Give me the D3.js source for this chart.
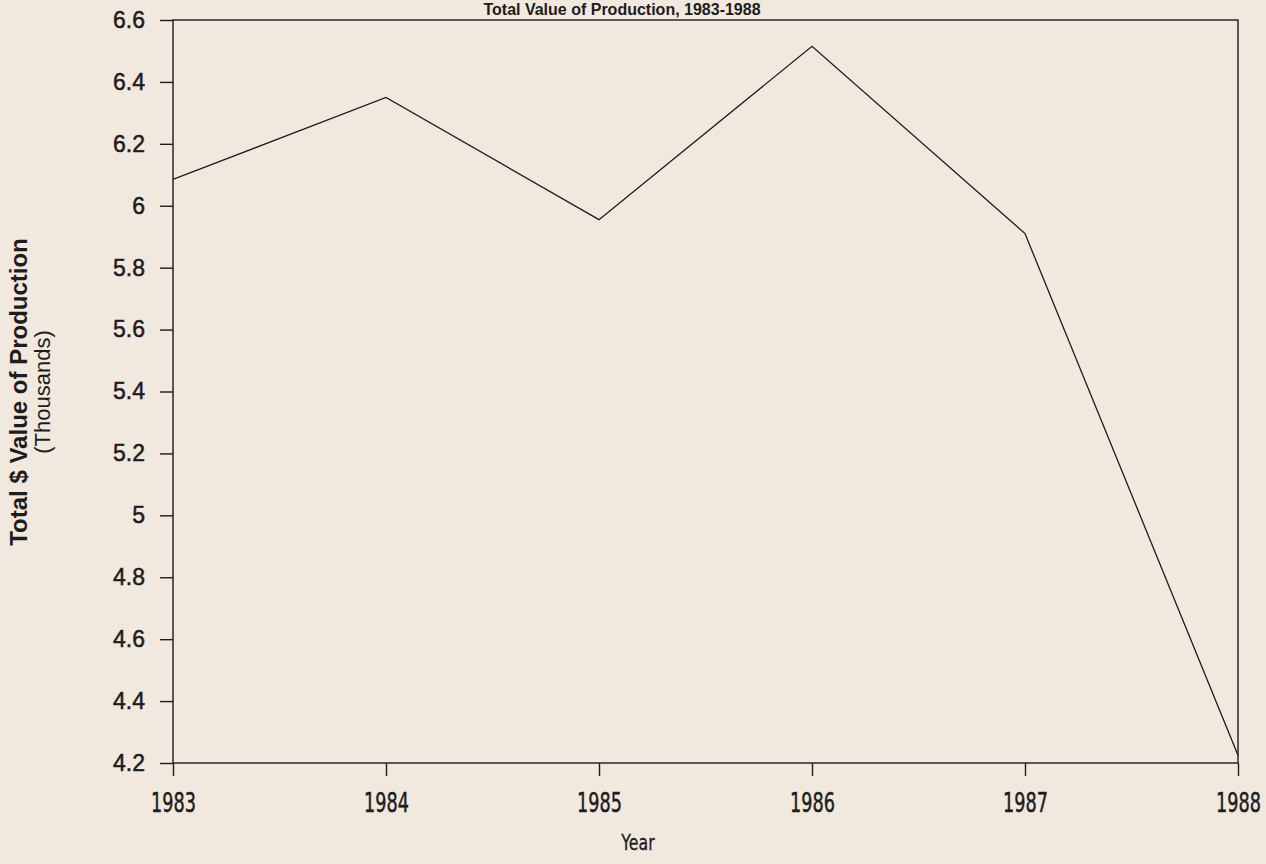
<!DOCTYPE html>
<html><head><meta charset="utf-8">
<script src="https://cdn.jsdelivr.net/npm/d3@7"></script>
<style>
html,body{margin:0;padding:0;background:#f1e8de;}
svg{display:block;}
</style></head>
<body>
<svg id="chart" width="1266" height="864"></svg>
<script>
const years = [1983, 1984, 1985, 1986, 1987, 1988];
const values = [6.085, 6.35, 5.955, 6.515, 5.91, 4.225];
const yTicks = [4.2, 4.4, 4.6, 4.8, 5, 5.2, 5.4, 5.6, 5.8, 6, 6.2, 6.4, 6.6];
const title = "Total Value of Production, 1983-1988";
const yTitle = "Total $ Value of Production";
const ySub = "(Thousands)";
const xTitle = "Year";

const svg = d3.select("#chart");
const W = 1266, H = 864;
const m = {left: 173, right: 1238, top: 20, bottom: 763};
const ink = "#1e1c1c";

svg.append("rect").attr("width", W).attr("height", H).attr("fill", "#f1e8de");

const x = d3.scaleLinear().domain([1983, 1988]).range([m.left, m.right]);
const y = d3.scaleLinear().domain([4.2, 6.6]).range([m.bottom, m.top]);

// frame
svg.append("rect").attr("x", m.left).attr("y", m.top)
  .attr("width", m.right - m.left).attr("height", m.bottom - m.top)
  .attr("fill", "none").attr("stroke", ink).attr("stroke-width", 1.4);

// y axis
const yAxis = d3.axisLeft(y).tickValues(yTicks).tickSize(13).tickPadding(15)
  .tickFormat(d => String(+d.toFixed(1)));
const gy = svg.append("g").attr("transform", `translate(${m.left},0)`).call(yAxis);
gy.select(".domain").remove();
gy.selectAll(".tick line").attr("stroke", ink).attr("stroke-width", 1.4);
gy.selectAll(".tick text").attr("fill", ink).attr("stroke", ink).attr("stroke-width", 0.5)
  .style("font-family", "'Liberation Sans', Arial, sans-serif").style("font-size", "23px");

// x axis
const xAxis = d3.axisBottom(x).tickValues(years).tickSize(13).tickPadding(18).tickFormat(d3.format("d"));
const gx = svg.append("g").attr("transform", `translate(0,${m.bottom})`).call(xAxis);
gx.select(".domain").remove();
gx.selectAll(".tick line").attr("stroke", ink).attr("stroke-width", 1.4);
gx.selectAll(".tick text").attr("fill", ink).attr("stroke", ink).attr("stroke-width", 0.5)
  .attr("transform", "scale(0.68,1)")
  .style("font-family", "'DejaVu Sans', sans-serif").style("font-size", "26px");

// line
const line = d3.line().x((d, i) => x(years[i])).y(d => y(d));
svg.append("path").datum(values).attr("d", line)
  .attr("fill", "none").attr("stroke", ink).attr("stroke-width", 1.3).attr("stroke-linejoin", "miter");

// title
svg.append("text").attr("x", 622).attr("y", 15).attr("text-anchor", "middle")
  .attr("fill", ink).style("font-family", "'Liberation Sans', Arial, sans-serif")
  .style("font-size", "16px").style("font-weight", "bold").text(title);

// axis titles
svg.append("text").attr("transform", "translate(27,392) rotate(-90)").attr("text-anchor", "middle")
  .attr("fill", ink).style("font-family", "'Liberation Sans', Arial, sans-serif")
  .style("font-size", "24px").style("font-weight", "bold").text(yTitle);
svg.append("text").attr("transform", "translate(50,392) rotate(-90)").attr("text-anchor", "middle")
  .attr("fill", ink).style("font-family", "'Liberation Sans', Arial, sans-serif")
  .style("font-size", "22px").text(ySub);
svg.append("text").attr("transform", "translate(638,850) scale(0.75,1)").attr("text-anchor", "middle")
  .attr("fill", ink).attr("stroke", ink).attr("stroke-width", 0.3)
  .style("font-family", "'DejaVu Sans', sans-serif")
  .style("font-size", "21px").text(xTitle);
</script>
</body></html>
